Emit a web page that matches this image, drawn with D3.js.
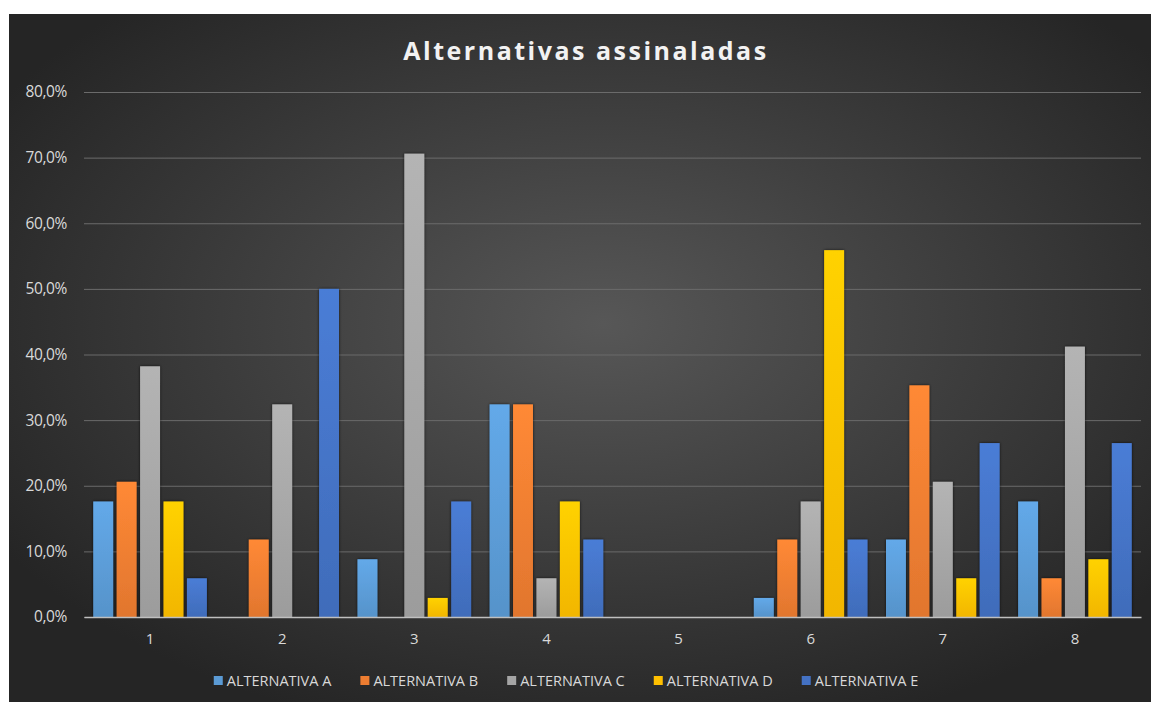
<!DOCTYPE html>
<html>
<head>
<meta charset="utf-8">
<script src="https://cdn.jsdelivr.net/npm/d3@7"></script>
<style>
  html, body { margin: 0; padding: 0; background: #fff; }
  svg { display: block; }
</style>
</head>
<body>
<div id="chart"></div>
<script>
// values (share of answers, 34 respondents)
const categories = ["1", "2", "3", "4", "5", "6", "7", "8"];
const seriesNames = ["ALTERNATIVA A", "ALTERNATIVA B", "ALTERNATIVA C", "ALTERNATIVA D", "ALTERNATIVA E"];
const altA = [17.6, 0, 8.8, 32.4, 0, 2.9, 11.8, 17.6];
const altB = [20.6, 11.8, 0, 32.4, 0, 11.8, 35.3, 5.9];
const altC = [38.2, 32.4, 70.6, 5.9, 0, 17.6, 20.6, 41.2];
const altD = [17.6, 0, 2.9, 17.6, 0, 55.9, 5.9, 8.8];
const altE = [5.9, 50.0, 17.6, 11.8, 0, 11.8, 26.5, 26.5];
const yTicks = [0, 10, 20, 30, 40, 50, 60, 70, 80];

const seriesValues = [altA, altB, altC, altD, altE];
const colors = ["#5B9BD5", "#ED7D31", "#A5A5A5", "#FFC000", "#4472C4"];

const W = 1151, H = 702;
const svg = d3.select("#chart").append("svg")
  .attr("width", W)
  .attr("height", H);

const defs = svg.append("defs");

// chart background: dark radial gradient
const bg = defs.append("radialGradient")
  .attr("id", "bg")
  .attr("cx", "52%").attr("cy", "45%").attr("r", "62%");
bg.append("stop").attr("offset", "0%").attr("stop-color", "#575757");
bg.append("stop").attr("offset", "100%").attr("stop-color", "#252525");

// bar gradients, lighter at the top
colors.forEach((c, i) => {
  const g = defs.append("linearGradient")
    .attr("id", "bar" + i)
    .attr("x1", 0).attr("y1", 0).attr("x2", 0).attr("y2", 1);
  g.append("stop").attr("offset", "0%").attr("stop-color", d3.color(c).brighter(0.25));
  g.append("stop").attr("offset", "100%").attr("stop-color", d3.color(c).darker(0.15));
});

const shadow = defs.append("filter").attr("id", "shadow")
  .attr("x", "-30%").attr("y", "-10%").attr("width", "160%").attr("height", "120%");
shadow.append("feDropShadow")
  .attr("dx", 0).attr("dy", 0).attr("stdDeviation", 1.6)
  .attr("flood-color", "#000").attr("flood-opacity", 0.75);

svg.append("rect")
  .attr("x", 9).attr("y", 14)
  .attr("width", W - 9).attr("height", H - 14)
  .attr("fill", "url(#bg)");

// title
svg.append("text")
  .attr("x", 586)
  .attr("y", 60)
  .attr("text-anchor", "middle")
  .attr("fill", "#f2f2f2")
  .style("font-family", "'Open Sans', sans-serif")
  .style("font-weight", "bold")
  .style("font-size", "25px")
  .style("letter-spacing", "2.5px")
  .text("Alternativas assinaladas");

const margin = { left: 84, right: 10, top: 92, bottom: 85 };
const plotW = W - margin.left - margin.right;
const plotH = H - margin.top - margin.bottom;

const x0 = d3.scaleBand().domain(categories).range([0, plotW]).paddingInner(0.14).paddingOuter(0.07);
const x1 = d3.scaleBand().domain(d3.range(seriesNames.length)).range([0, x0.bandwidth()]).paddingInner(0.15);
const y = d3.scaleLinear().domain([0, 80]).range([plotH, 0]);

const g = svg.append("g").attr("transform", `translate(${margin.left},${margin.top})`);

// gridlines
const yAxis = d3.axisLeft(y)
  .tickValues(yTicks)
  .tickSize(-plotW)
  .tickPadding(17)
  .tickFormat(d => d3.format(".1f")(d).replace(".", ",") + "%");

const yG = g.append("g").call(yAxis);
yG.select(".domain").remove();
yG.selectAll(".tick line").attr("stroke", "#6b6b6b").attr("stroke-width", 1);
yG.selectAll(".tick text")
  .attr("fill", "#d9d9d9")
  .style("font-family", "'Open Sans', sans-serif")
  .style("font-size", "15.5px")
  .style("letter-spacing", "-0.4px");

// bars
const groups = g.selectAll(".grp")
  .data(categories)
  .enter()
  .append("g")
  .attr("class", "grp")
  .attr("transform", d => `translate(${x0(d)},0)`);

groups.selectAll("rect")
  .data((d, ci) => seriesValues.map((vals, si) => ({ si, v: vals[ci] })))
  .enter()
  .filter(d => d.v > 0)
  .append("rect")
  .attr("x", d => x1(d.si))
  .attr("y", d => y(d.v))
  .attr("width", x1.bandwidth())
  .attr("height", d => plotH - y(d.v))
  .attr("fill", d => `url(#bar${d.si})`)
  .attr("filter", "url(#shadow)");

// x axis
const xAxis = d3.axisBottom(x0).tickSize(0).tickPadding(16);
const xG = g.append("g").attr("transform", `translate(0,${plotH})`).call(xAxis);
xG.select(".domain").attr("stroke", "#bfbfbf").attr("stroke-width", 1.5);
xG.selectAll(".tick text")
  .attr("fill", "#d9d9d9")
  .style("font-family", "'Open Sans', sans-serif")
  .style("font-size", "15px");

// legend
const legend = svg.append("g").attr("transform", "translate(0,681)");
const items = legend.selectAll(".item")
  .data(seriesNames)
  .enter()
  .append("g")
  .attr("class", "item");

items.append("rect")
  .attr("y", -5)
  .attr("width", 9)
  .attr("height", 9)
  .attr("fill", (d, i) => colors[i]);

items.append("text")
  .attr("x", 13)
  .attr("y", 0)
  .attr("dy", "0.35em")
  .attr("fill", "#d9d9d9")
  .style("font-family", "'Liberation Sans Narrow', 'Open Sans', sans-serif")
  .style("font-size", "14.5px")
  .text(d => d);

const gap = 29;
let widths = [];
items.each(function() {
  widths.push(13 + d3.select(this).select("text").node().getComputedTextLength());
});
const total = d3.sum(widths) + gap * (widths.length - 1);
let cx = 566 - total / 2;
items.attr("transform", (d, i) => {
  const t = `translate(${cx},0)`;
  cx += widths[i] + gap;
  return t;
});
</script>
</body>
</html>
